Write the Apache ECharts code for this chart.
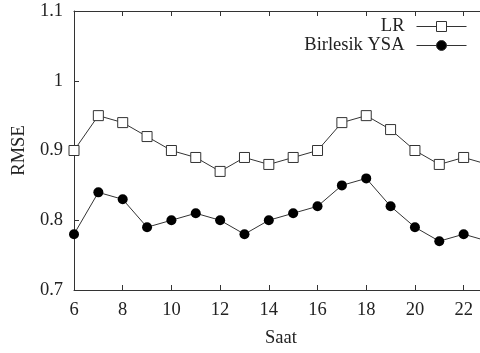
<!DOCTYPE html>
<html>
<head>
<meta charset="utf-8">
<script src="https://cdn.jsdelivr.net/npm/echarts@6/dist/echarts.min.js"></script>
<style>
  html, body { margin: 0; padding: 0; background: #fff; overflow: hidden; }
  #chart { width: 495px; height: 353px; }
</style>
</head>
<body>
<div id="chart"></div>
<script>
// hours on the x axis
const hours = [6, 7, 8, 9, 10, 11, 12, 13, 14, 15, 16, 17, 18, 19, 20, 21, 22, 23]
const lrValues = [0.90, 0.95, 0.94, 0.92, 0.90, 0.89, 0.87, 0.89, 0.88, 0.89, 0.90, 0.94, 0.95, 0.93, 0.90, 0.88, 0.89, 0.88]
const ysaValues = [0.78, 0.84, 0.83, 0.79, 0.80, 0.81, 0.80, 0.78, 0.80, 0.81, 0.82, 0.85, 0.86, 0.82, 0.79, 0.77, 0.78, 0.77]

const font = 'Liberation Serif, Times New Roman, serif'
const ink = '#222'
const frame = '#333'

const chart = echarts.init(document.getElementById('chart'))

const axisCommon = {
  axisLine: { show: true, lineStyle: { color: frame, width: 1 } },
  axisTick: { show: true, inside: true, length: 5, lineStyle: { color: frame } },
  splitLine: { show: false },
}

// gnuplot-style key: each row right-aligned on its own
function keyRow(name, top, markFill) {
  return {
    orient: 'horizontal',
    right: 28,
    top: top,
    padding: 0,
    align: 'right',
    itemWidth: 50,
    itemHeight: 12.5,
    lineStyle: { width: 1, color: frame },
    itemStyle: { color: markFill, borderColor: frame, borderWidth: 1 },
    textStyle: { fontFamily: font, fontSize: 18.5, color: ink, padding: [0, 7, 0, 0] },
    data: [name],
  }
}

chart.setOption({
  animation: false,
  grid: { left: 74, right: 7, top: 11, bottom: 59 },
  legend: [keyRow('LR', 17, '#fff'), keyRow('Birlesik YSA', 36, '#000')],
  xAxis: [
    {
      ...axisCommon,
      type: 'value',
      min: 6,
      max: 23,
      interval: 2,
      name: 'Saat',
      nameLocation: 'middle',
      nameGap: 39,
      nameTextStyle: { fontFamily: font, fontSize: 18.5, color: ink },
      axisLabel: { fontFamily: font, fontSize: 18.5, color: ink, margin: 11, showMaxLabel: false },
    },
    {
      ...axisCommon,
      type: 'value',
      position: 'top',
      min: 6,
      max: 23,
      interval: 2,
      axisLabel: { show: false },
    },
  ],
  yAxis: [
    {
      ...axisCommon,
      type: 'value',
      min: 0.7,
      max: 1.1,
      interval: 0.1,
      name: 'RMSE',
      nameLocation: 'middle',
      nameRotate: 90,
      nameGap: 44,
      nameTextStyle: { fontFamily: font, fontSize: 18.5, color: ink },
      axisLabel: { fontFamily: font, fontSize: 18.5, color: ink, margin: 11 },
    },
  ],
  series: [
    {
      name: 'LR',
      type: 'line',
      data: hours.map((h, i) => [h, lrValues[i]]),
      symbol: 'rect',
      symbolSize: 10,
      showAllSymbol: true,
      lineStyle: { color: frame, width: 1 },
      itemStyle: { color: '#fff', borderColor: frame, borderWidth: 1 },
    },
    {
      name: 'Birlesik YSA',
      type: 'line',
      data: hours.map((h, i) => [h, ysaValues[i]]),
      symbol: 'circle',
      symbolSize: 10,
      showAllSymbol: true,
      lineStyle: { color: frame, width: 1 },
      itemStyle: { color: '#000' },
    },
  ],
})
</script>
</body>
</html>
